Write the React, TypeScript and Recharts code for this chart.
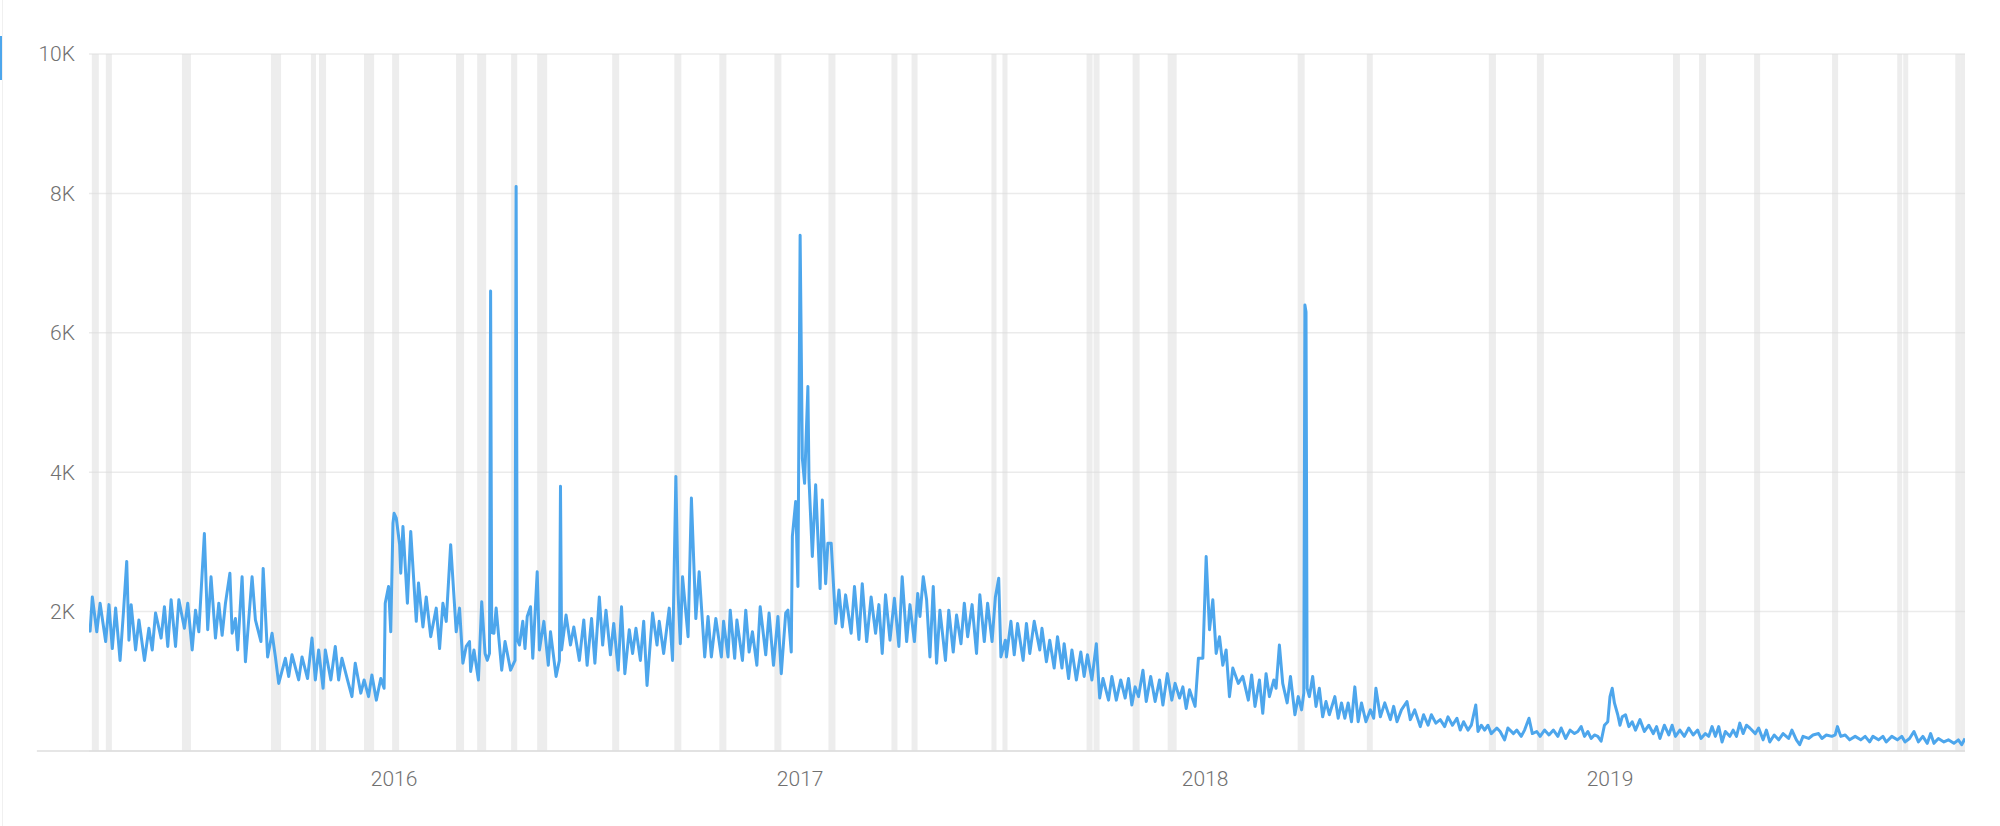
import React from 'react';
import { LineChart, Line, XAxis, YAxis, CartesianGrid, ReferenceArea, ReferenceLine } from 'recharts';

// day offsets relative to 2016-01-01, daily values
const seg2015: [number, number][] = [
  [-275,1780],[-274,1720],[-272,2210],[-268,1710],[-265,2120],[-260,1570],[-257,2100],[-254,1470],[-251,2050],[-247,1300],
  [-244,1980],[-241,2720],[-239,1590],[-237,2100],[-233,1450],[-230,1880],[-225,1300],[-221,1760],[-218,1450],[-215,1980],
  [-210,1620],[-207,2070],[-204,1500],[-201,2170],[-197,1500],[-194,2170],[-189,1760],[-186,2120],[-182,1450],[-179,2020],
  [-176,1710],[-171,3120],[-168,1740],[-165,2500],[-161,1620],[-158,2120],[-155,1660],[-152,2120],[-148,2550],[-146,1690],
  [-143,1900],[-141,1450],[-137,2500],[-134,1280],[-128,2500],[-125,1880],[-120,1570],[-118,2620],[-114,1350],[-110,1690],
  [-107,1350],[-104,970],[-98,1330],[-95,1070],[-92,1380],[-86,1020],[-83,1350],[-78,1040],[-74,1620],[-71,1020],
  [-68,1450],[-64,900],[-62,1450],[-57,1020],[-53,1500],[-50,1020],[-47,1330],[-42,1020],[-38,780],[-35,1260],
  [-30,830],[-27,1020],[-23,780],[-20,1090],[-16,730],[-12,1040],[-9,900],[-8,2120],[-5,2360],[-3,1710],[-1,3270],
];

const seg2016: [number, number][] = [
  [0,3410],[2,3340],[5,2960],[6,2550],[8,3220],[12,2120],[15,3150],[20,1860],[22,2410],[26,1780],
  [29,2210],[33,1640],[38,2050],[41,1470],[44,2120],[47,1860],[51,2960],[56,1710],[59,2050],[62,1260],
  [65,1500],[68,1570],[69,1140],[72,1450],[76,1020],[79,2140],[82,1400],[84,1300],[86,1400],[87,6600],
  [88,1700],[90,1690],[92,2050],[97,1160],[100,1570],[105,1160],[109,1300],[110,8100],[111,1600],[113,1520],
  [116,1860],[118,1470],[120,1930],[123,2070],[125,1330],[129,2570],[131,1450],[135,1860],[139,1230],[141,1710],
  [146,1070],[149,1300],[150,3800],[151,1450],[155,1950],[159,1520],[162,1780],[167,1300],[171,1880],[174,1230],
  [178,1900],[181,1260],[185,2210],[188,1520],[191,2020],[195,1380],[198,1830],[202,1160],[205,2070],[208,1110],
  [212,1740],[215,1400],[218,1760],[222,1300],[225,1860],[228,940],[233,1980],[237,1520],[239,1860],[243,1400],
  [248,2050],[251,1300],[254,3940],[256,2260],[258,1540],[260,2500],[265,1640],[268,3630],[272,1900],[275,2570],
  [280,1350],[283,1930],[286,1350],[290,1900],[295,1350],[297,1860],[301,1350],[303,2020],[307,1330],[309,1880],
  [314,1300],[317,2020],[320,1420],[323,1710],[327,1230],[330,2070],[335,1380],[338,1980],[342,1230],[346,1930],
  [349,1110],[353,1980],[355,2020],[358,1420],[359,3080],[362,3580],[364,2360],
];

const seg2017: [number, number][] = [
  [366,7400],[368,4200],[370,3840],[373,5230],[374,3900],[377,2790],[380,3820],[384,2330],[386,3600],[389,2400],
  [391,2980],[394,2980],[398,1830],[401,2310],[404,1780],[407,2240],[412,1690],[415,2360],[419,1600],[422,2400],
  [426,1570],[430,2210],[434,1690],[437,2100],[440,1400],[443,2240],[447,1590],[451,2190],[455,1500],[458,2500],
  [462,1570],[465,2100],[469,1570],[472,2260],[474,1930],[477,2500],[480,2170],[483,1350],[486,2360],[489,1260],
  [492,2020],[497,1300],[500,2020],[504,1420],[507,1950],[511,1540],[514,2120],[517,1640],[521,2100],[525,1400],
  [528,2240],[532,1570],[535,2120],[539,1570],[542,2210],[545,2480],[547,1350],[551,1590],[552,1350],[556,1860],
  [559,1380],[562,1830],[567,1300],[570,1830],[573,1400],[577,1860],[582,1450],[584,1760],[588,1280],[591,1590],
  [595,1190],[598,1640],[602,1190],[604,1540],[608,1040],[611,1450],[615,1020],[619,1420],[622,1070],[625,1380],
  [629,1020],[633,1540],[636,760],[639,1040],[644,730],[647,1070],[651,730],[655,1020],[659,760],[662,1040],
  [665,660],[668,920],[671,780],[675,1160],[678,710],[682,1070],[686,710],[690,1020],[693,660],[697,1110],
  [701,730],[704,970],[708,760],[711,920],[714,610],[717,880],[722,640],[725,1330],[729,1330],
];

const seg2018: [number, number][] = [
  [732,2790],[735,1740],[738,2170],[741,1400],[744,1640],[747,1230],[750,1450],[753,780],[756,1190],[761,970],
  [765,1070],[770,730],[773,1090],[776,640],[780,1020],[783,540],[786,1110],[789,780],[793,1020],[795,900],
  [798,1520],[801,970],[805,690],[808,1070],[812,520],[815,780],[818,590],[820,830],[821,6400],[822,6300],
  [823,900],[825,780],[828,1070],[831,640],[834,900],[837,490],[840,710],[843,520],[848,780],[851,470],
  [854,690],[857,470],[860,690],[863,420],[866,920],[869,420],[872,690],[876,420],[880,590],[883,470],
  [885,900],[889,490],[893,690],[898,450],[901,640],[904,420],[908,590],[913,710],[916,450],[920,590],
  [925,350],[928,520],[932,370],[935,520],[939,400],[943,450],[947,350],[950,490],[954,370],[958,470],
  [961,300],[964,420],[968,300],[971,370],[975,660],[977,280],[980,370],[983,300],[986,370],[989,250],
  [994,330],[997,280],[1001,160],[1004,330],[1009,250],[1012,300],[1016,210],[1019,300],[1023,470],[1026,250],
  [1030,280],[1033,210],[1037,300],[1041,230],[1045,300],[1049,210],[1052,330],[1056,180],[1060,300],[1064,250],
  [1067,280],[1070,350],[1073,210],[1076,280],[1079,180],[1082,230],[1085,210],[1088,140],[1091,370],[1094,420],
];

const seg2019: [number, number][] = [
  [1096,780],[1098,900],[1100,690],[1103,520],[1105,370],[1107,490],[1110,520],[1113,350],[1116,420],[1119,300],
  [1123,450],[1127,280],[1131,370],[1135,250],[1138,350],[1141,180],[1145,370],[1149,230],[1152,370],[1155,210],
  [1159,300],[1163,210],[1167,330],[1171,230],[1175,300],[1178,180],[1182,250],[1185,210],[1188,350],[1191,210],
  [1194,350],[1197,130],[1200,280],[1204,210],[1207,300],[1210,210],[1213,400],[1216,250],[1219,370],[1222,330],
  [1227,250],[1230,330],[1234,160],[1237,300],[1240,130],[1244,230],[1248,160],[1252,250],[1257,180],[1260,300],
  [1264,160],[1267,90],[1270,210],[1275,180],[1279,230],[1284,250],[1287,180],[1291,230],[1296,210],[1299,230],
  [1301,350],[1304,210],[1308,230],[1312,160],[1317,210],[1322,160],[1326,210],[1330,130],[1333,210],[1338,160],
  [1342,210],[1345,130],[1350,210],[1355,160],[1359,210],[1362,130],[1366,180],[1370,280],[1374,130],[1378,210],
  [1382,110],[1385,250],[1388,110],[1392,180],[1397,130],[1401,160],[1406,110],[1410,160],[1413,90],[1416,180],
];

// highlighted (gray) day ranges, day offsets relative to 2016-01-01
const bandStart = [
  -272.4,-259.8,-191.2,-111.0,-74.9,-67.7,-27.1,-1.8,55.9,74.9,105.5,129.0,196.6,252.6,293.2,342.8,391.5,
  448.3,466.4,538.5,548.4,624.2,630.5,665.7,697.3,814.5,876.8,986.8,1030.1,1152.8,1176.3,1225.9,1296.2,
  1354.9,1360.3,1407.2,1411.7,
];
const bandEnd = [
  -266.1,-254.4,-183.1,-101.9,-70.4,-61.3,-18.0,4.5,63.1,83.0,111.0,138.0,202.9,258.9,299.5,349.1,397.8,
  453.7,471.8,543.0,552.9,629.6,635.9,672.0,705.4,820.8,882.2,993.2,1036.4,1159.1,1182.6,1231.3,1301.6,
  1359.4,1364.8,1411.7,1416.0,
];

const yearTickDays = [0, 366, 731, 1096];
const yearTickLabels = ['2016', '2017', '2018', '2019'];
const valueTicks = [2000, 4000, 6000, 8000, 10000];
const firstDay = -275;
const lastDay = 1416;
const axisLineStartDay = -322;

const data = [...seg2015, ...seg2016, ...seg2017, ...seg2018, ...seg2019].map(([day, value]) => ({ day, value }));

const FONT = 'Roboto, "Liberation Sans", sans-serif';
const tickStyle = { fill: '#707070', fontSize: 21, fontFamily: FONT, fontWeight: 300 };

export default function App() {
  return (
    <div style={{ position: 'absolute', left: 0, top: 0, width: 2000, height: 826, background: '#fff', overflow: 'hidden' }}>
      <div style={{ position: 'absolute', left: 2, top: 0, width: 1, height: 826, background: '#f0f0f0' }} />
      <div style={{ position: 'absolute', left: 0, top: 36, width: 2, height: 44, background: '#4da6ec' }} />
      <LineChart width={2000} height={826} data={data} margin={{ top: 54, right: 35, bottom: 45, left: 0 }}>
        <CartesianGrid horizontal vertical={false} stroke="#ebebeb" strokeWidth={1.5} />
        {bandStart.map((s, i) => (
          <ReferenceArea
            key={i}
            x1={s}
            x2={bandEnd[i]}
            y1={0}
            y2={10000}
            fill="#dcdcdc"
            fillOpacity={0.52}
            stroke="none"
            ifOverflow="hidden"
          />
        ))}
        <ReferenceLine
          segment={[{ x: axisLineStartDay, y: 0 }, { x: lastDay, y: 0 }]}
          stroke="#dedede"
          strokeWidth={1.5}
          ifOverflow="visible"
        />
        <XAxis
          type="number"
          dataKey="day"
          domain={[firstDay, lastDay]}
          ticks={yearTickDays}
          tickFormatter={(d: number) => yearTickLabels[yearTickDays.indexOf(d)] ?? ''}
          axisLine={false}
          tickLine={false}
          tickSize={6}
          tickMargin={14}
          height={30}
          tick={tickStyle}
          allowDataOverflow
          interval={0}
        />
        <YAxis
          type="number"
          domain={[0, 10000]}
          ticks={valueTicks}
          tickFormatter={(v: number) => `${v / 1000}K`}
          axisLine={false}
          tickLine={false}
          width={89}
          tickSize={6}
          tickMargin={8}
          tick={tickStyle}
          interval={0}
        />
        <Line
          type="linear"
          dataKey="value"
          stroke="#4da6ec"
          strokeWidth={3}
          strokeLinejoin="round"
          dot={false}
          activeDot={false}
          isAnimationActive={false}
        />
      </LineChart>
    </div>
  );
}
